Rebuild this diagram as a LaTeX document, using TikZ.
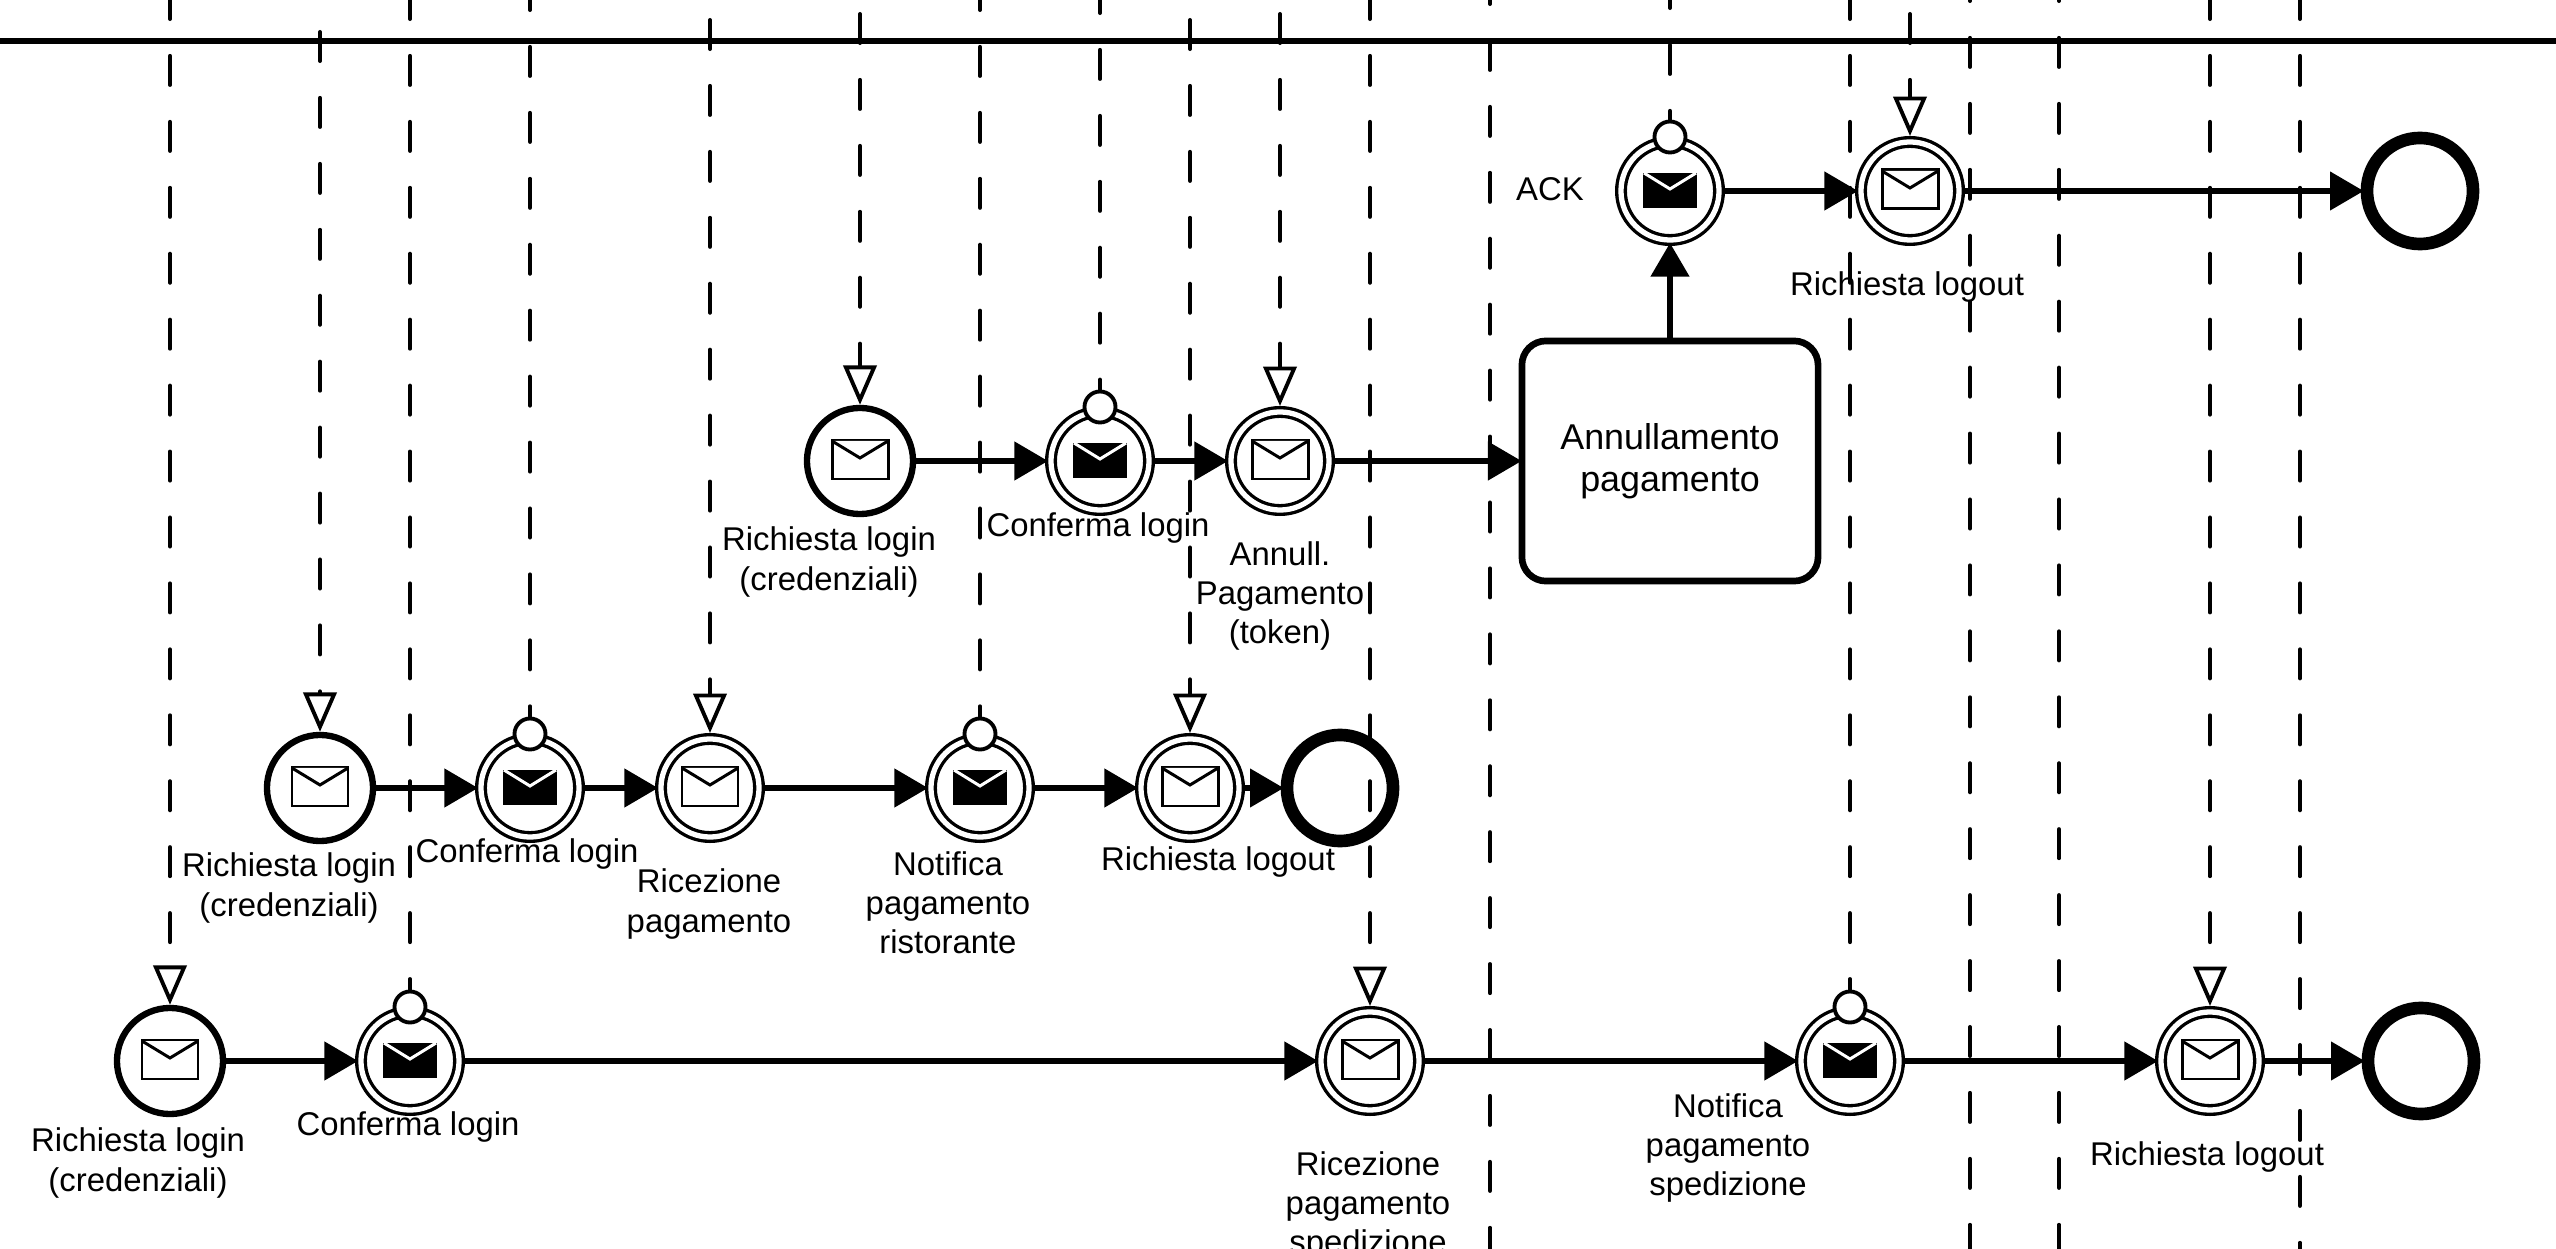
\documentclass[tikz,border=0pt]{standalone}
\usepackage{fontspec}
\setmainfont{Liberation Sans}
\usetikzlibrary{arrows.meta,positioning,calc}

\begin{document}
\begin{tikzpicture}[
    x=0.01cm, y=-0.01cm,
    font=\fontsize{9.35}{11.1}\selectfont,
    startev/.style={circle, draw, fill=white, line width=1.8pt, minimum size=1.06cm, inner sep=0pt},
    catchev/.style={circle, draw, fill=white, line width=.95pt, double=white, double distance=1.5pt, minimum size=.98cm, inner sep=0pt, outer sep=1.7pt},
    endev/.style={circle, draw, fill=white, line width=3.6pt, minimum size=1.06cm, inner sep=0pt},
    msgdot/.style={circle, draw, fill=white, line width=1.1pt, minimum size=.31cm, inner sep=0pt},
    taskbox/.style={draw, line width=1.9pt, rounded corners=.24cm, minimum width=2.96cm, minimum height=2.4cm, align=center, font=\fontsize{10.2}{12}\selectfont},
    lbl/.style={align=center, inner sep=0pt},
    seqflow/.style={line width=1.9pt, shorten >=-.9pt, -{Triangle[length=9.6pt,width=10.6pt]}},
    msgline/.style={line width=1.14pt, line cap=round, dash pattern=on 8.25pt off 10.5pt},
    msgflow/.style={msgline, -{Triangle[open,length=11.2pt,width=9.4pt,line width=1.1pt,line cap=butt]}},
    mailw/.style={draw, fill=white, line width=.85pt},
    mailk/.style={draw, white, line width=.85pt}
]
  \useasboundingbox (0,0) rectangle (2556,1249);

  % top lane
  \draw[line width=1.7pt] (0,41) -- (2556,41);

  % events
  \foreach \ev/\x/\y in {a2/1910/191, b2/1280/461, c3/710/788, c5/1190/788, d3/1370/1061, d5/2210/1061} {
    \node[catchev] (\ev) at (\x,\y) {};
  }
  \foreach \ev/\x/\y in {a1/1670/191, b1/1100/461, c2/530/788, c4/980/788, d2/410/1061, d4/1850/1061} {
    \node[catchev] (\ev) at (\x,\y) {};
    \node[msgdot] (\ev dot) at ($(\ev)+(0,-54)$) {};
  }
  \foreach \ev/\x/\y in {b0/860/461, c1/320/788, d1/170/1061} {
    \node[startev] (\ev) at (\x,\y) {};
  }
  \node[endev] (aend) at (2420,191) {};
  \node[endev] (cend) at (1340,788) {};
  \node[endev] (dend) at (2421,1061) {};
  \node[taskbox] (annul) at (1670,461) {Annullamento\\pagamento};

  % envelopes
  \foreach \ev in {a2,b0,b2,c1,c3,c5,d1,d3,d5} {
    \draw[mailw] ($(\ev)+(-28,-21)$) rectangle ($(\ev)+(28,18)$);
    \draw[mailw] ($(\ev)+(-28,-20)$) -- ($(\ev)+(0,-3)$) -- ($(\ev)+(28,-20)$);
  }
  \foreach \ev in {a1,b1,c2,c4,d2,d4} {
    \fill ($(\ev)+(-27,-18)$) rectangle ($(\ev)+(27,17)$);
    \draw[mailk] ($(\ev)+(-26,-18)$) -- ($(\ev)+(0,-2)$) -- ($(\ev)+(26,-18)$);
  }

  % labels
  \node[lbl] (lack) at (1550,189) {ACK};
  \node[lbl] (la2) at (1907,287) {Richiesta logout};
  \node[lbl] (lb0) at (829,562) {Richiesta login\\(credenziali)};
  \node[lbl] (lb1) at (1098,528) {Conferma login};
  \node[lbl] (lb2) at (1280,596) {Annull.\\Pagamento\\(token)};
  \node[lbl] (lc1) at (289,888) {Richiesta login\\(credenziali)};
  \node[lbl] (lc2) at (527,854) {Conferma login};
  \node[lbl] (lc3) at (709,904) {Ricezione\\pagamento};
  \node[lbl] (lc4) at (948,903) {Notifica\\pagamento\\ristorante};
  \node[lbl] (lc5) at (1218,862) {Richiesta logout};
  \node[lbl] (ld1) at (138,1163) {Richiesta login\\(credenziali)};
  \node[lbl] (ld2) at (408,1127) {Conferma login};
  \node[lbl] (ld3) at (1368,1206) {Ricezione\\pagamento\\spedizione};
  \node[lbl] (ld4) at (1728,1148) {Notifica\\pagamento\\spedizione};
  \node[lbl] (ld5) at (2207,1157) {Richiesta logout};

  % sequence flows
  \draw[seqflow] (b0) -- (b1);
  \draw[seqflow] (b1) -- (b2);
  \draw[seqflow] (b2) -- (annul);
  \draw[seqflow] (annul) -- (a1);
  \draw[seqflow] (a1) -- (a2);
  \draw[seqflow] (a2) -- (aend);
  \draw[seqflow] (c1) -- (c2);
  \draw[seqflow] (c2) -- (c3);
  \draw[seqflow] (c3) -- (c4);
  \draw[seqflow] (c4) -- (c5);
  \draw[seqflow] (c5) -- (cend);
  \draw[seqflow] (d1) -- (d2);
  \draw[seqflow] (d2) -- (d3);
  \draw[seqflow] (d3) -- (d4);
  \draw[seqflow] (d4) -- (d5);
  \draw[seqflow] (d5) -- (dend);

  % message flows, with the y where their first dash starts
  \foreach \ev/\x/\y in {d1/170/-10, c1/320/32, c3/710/20, b0/860/14, c5/1190/20, b2/1280/14, d3/1370/-10, a2/1910/14, d5/2210/-10} {
    \coordinate (top\ev) at (\x,\y);
    \draw[msgflow] (top\ev) -- (\ev);
  }
  \foreach \ev/\x/\y in {d2/410/-10, c2/530/-19, c4/980/-19, b1/1100/-16, a1/1670/-21, d4/1850/-10} {
    \coordinate (top\ev) at (\x,\y);
    \draw[msgline] (top\ev) -- (\ev dot);
  }
  \foreach \n/\x/\y in {p/1490/-25, q/1970/-28, r/2059/-28, s/2300/-10} {
    \coordinate (top\n) at (\x,\y);
    \coordinate (bot\n) at (\x,1300);
    \draw[msgline] (top\n) -- (bot\n);
  }
\end{tikzpicture}
\end{document}
